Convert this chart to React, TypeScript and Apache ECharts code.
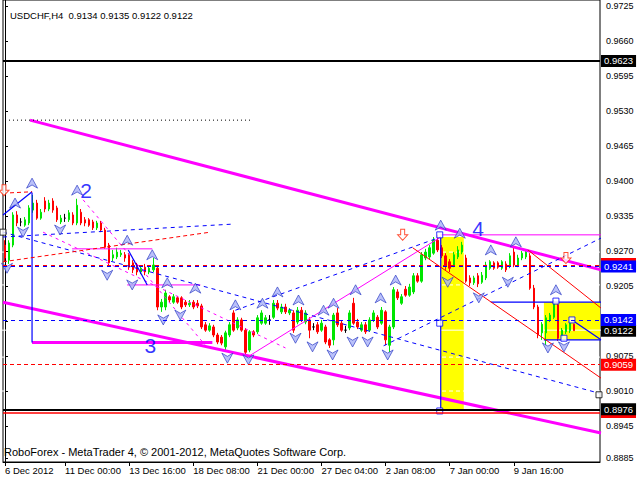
import React, { useEffect, useRef } from "react";
import * as echarts from "echarts";

const FONT = '"Liberation Sans", Arial, sans-serif';

// ---------- axes ----------
const timeTickIndex = [0, 15, 31, 47, 63, 79, 95, 111, 127];
const timeTickLabels = ["6 Dec 2012", "11 Dec 00:00", "13 Dec 16:00", "18 Dec 08:00", "21 Dec 00:00", "27 Dec 04:00", "2 Jan 08:00", "7 Jan 00:00", "9 Jan 16:00"];
const priceTicks = [0.9725, 0.966, 0.9595, 0.953, 0.9465, 0.94, 0.9335, 0.927, 0.9205, 0.914, 0.9075, 0.901, 0.8945, 0.8885];
const priceTickLabels = [0.9725, 0.966, 0.9595, 0.953, 0.9465, 0.94, 0.9335, 0.927, 0.9205, 0.9075, 0.901, 0.8945, 0.8885];
const priceMin = 0.88782;
const priceMax = 0.97361;
const slotCount = 149;

// ---------- candles: [open, close, low, high] ----------
const candles: number[][] = [
  [0.9281, 0.9257, 0.925, 0.929], [0.9253, 0.9285, 0.9246, 0.929], [0.9281, 0.9337, 0.9277, 0.9342], [0.9337, 0.9322, 0.9316, 0.9344],
  [0.9324, 0.9324, 0.9316, 0.9331], [0.9318, 0.9328, 0.9315, 0.9333], [0.9322, 0.935, 0.9318, 0.9355], [0.9346, 0.9359, 0.9341, 0.9374],
  [0.9359, 0.9331, 0.9328, 0.9365], [0.9331, 0.9342, 0.9328, 0.9348], [0.9363, 0.9348, 0.9342, 0.937], [0.9348, 0.9359, 0.9344, 0.9365],
  [0.9363, 0.9346, 0.9341, 0.9368], [0.935, 0.9328, 0.9324, 0.9354], [0.9324, 0.9331, 0.932, 0.9337], [0.9331, 0.9331, 0.9324, 0.9339],
  [0.9328, 0.9341, 0.9324, 0.9346], [0.9337, 0.9322, 0.9318, 0.9342], [0.9322, 0.9355, 0.9318, 0.9367], [0.9342, 0.9322, 0.9318, 0.9348],
  [0.9328, 0.9322, 0.9316, 0.9333], [0.9328, 0.9318, 0.9315, 0.9331], [0.9324, 0.9313, 0.9309, 0.9328], [0.9313, 0.9322, 0.9309, 0.9326],
  [0.9322, 0.9309, 0.9305, 0.9326], [0.9309, 0.9277, 0.9274, 0.9313], [0.9281, 0.9248, 0.9244, 0.9285], [0.9257, 0.9263, 0.9251, 0.9272],
  [0.9259, 0.9268, 0.9255, 0.9276], [0.9263, 0.9266, 0.9259, 0.9272], [0.9263, 0.9257, 0.925, 0.9268], [0.9263, 0.924, 0.9235, 0.9266],
  [0.9248, 0.9235, 0.9229, 0.9253], [0.9244, 0.9231, 0.9225, 0.9248], [0.9231, 0.9238, 0.9227, 0.9244], [0.924, 0.9231, 0.9225, 0.9246],
  [0.9231, 0.9238, 0.9227, 0.9244], [0.9235, 0.9244, 0.9231, 0.9257], [0.9238, 0.9166, 0.916, 0.9244], [0.9166, 0.9175, 0.9157, 0.9181],
  [0.9166, 0.9192, 0.916, 0.9198], [0.9185, 0.9179, 0.9175, 0.9188], [0.9175, 0.9185, 0.9172, 0.919], [0.9183, 0.9175, 0.9172, 0.9186],
  [0.9183, 0.9166, 0.9162, 0.9186], [0.9175, 0.917, 0.9166, 0.9179], [0.917, 0.9173, 0.9166, 0.9179], [0.9175, 0.9166, 0.9162, 0.9179],
  [0.9173, 0.9168, 0.9164, 0.9179], [0.9168, 0.9129, 0.9125, 0.9172], [0.9133, 0.9123, 0.912, 0.9138], [0.9123, 0.9131, 0.912, 0.9136],
  [0.9129, 0.9114, 0.911, 0.9133], [0.9114, 0.9101, 0.9097, 0.9118], [0.911, 0.9099, 0.9095, 0.9114], [0.9092, 0.9118, 0.9086, 0.9122],
  [0.9114, 0.9133, 0.911, 0.9138], [0.9155, 0.9123, 0.912, 0.916], [0.9127, 0.9142, 0.9123, 0.9147], [0.9142, 0.9123, 0.912, 0.9146],
  [0.9123, 0.9082, 0.9077, 0.9127], [0.9086, 0.912, 0.9082, 0.9123], [0.912, 0.9114, 0.911, 0.9123], [0.912, 0.9146, 0.9116, 0.9151],
  [0.9136, 0.9155, 0.9133, 0.916], [0.9136, 0.9146, 0.9133, 0.9151], [0.9142, 0.9142, 0.9133, 0.9151], [0.9147, 0.9173, 0.9144, 0.9179],
  [0.9173, 0.9164, 0.916, 0.9179], [0.9157, 0.9166, 0.9153, 0.9172], [0.9166, 0.9157, 0.9153, 0.9172], [0.9155, 0.916, 0.9151, 0.9164],
  [0.9155, 0.9123, 0.9118, 0.916], [0.9138, 0.916, 0.9134, 0.9166], [0.916, 0.9142, 0.9138, 0.9166], [0.9138, 0.9155, 0.9134, 0.916],
  [0.9142, 0.9123, 0.9108, 0.9147], [0.9129, 0.9129, 0.9123, 0.9136], [0.9133, 0.912, 0.9116, 0.9138], [0.9123, 0.9136, 0.912, 0.9142],
  [0.9129, 0.9101, 0.9097, 0.9133], [0.9105, 0.9095, 0.909, 0.9108], [0.9105, 0.9151, 0.9095, 0.9155], [0.9155, 0.9133, 0.9129, 0.9164],
  [0.9136, 0.9123, 0.912, 0.914], [0.9123, 0.9123, 0.9118, 0.9131], [0.9127, 0.9155, 0.9123, 0.916], [0.9173, 0.9136, 0.9133, 0.9183],
  [0.9138, 0.9129, 0.9125, 0.9144], [0.9123, 0.9133, 0.912, 0.9138], [0.9133, 0.912, 0.9116, 0.9138], [0.9123, 0.9142, 0.912, 0.9147],
  [0.9142, 0.9155, 0.9138, 0.916], [0.9147, 0.9129, 0.9125, 0.9151], [0.9136, 0.916, 0.9133, 0.9166], [0.9157, 0.9105, 0.9095, 0.916],
  [0.9095, 0.9129, 0.9082, 0.9133], [0.9129, 0.9198, 0.9125, 0.9203], [0.9194, 0.9183, 0.9179, 0.9199], [0.9173, 0.9185, 0.917, 0.919],
  [0.9199, 0.9188, 0.9185, 0.9205], [0.9188, 0.9203, 0.9185, 0.9209], [0.9194, 0.9224, 0.919, 0.9229], [0.9224, 0.9214, 0.9211, 0.9229],
  [0.9214, 0.9263, 0.9211, 0.9268], [0.9257, 0.9268, 0.9253, 0.9274], [0.9259, 0.9276, 0.9255, 0.9281], [0.9266, 0.929, 0.9263, 0.9296],
  [0.929, 0.9272, 0.9268, 0.93], [0.9276, 0.9261, 0.9257, 0.9281], [0.9261, 0.9244, 0.9235, 0.9266], [0.925, 0.9238, 0.9231, 0.9255],
  [0.9244, 0.9263, 0.924, 0.9268], [0.9259, 0.9272, 0.9255, 0.9279], [0.9268, 0.9281, 0.9264, 0.9287], [0.9257, 0.9214, 0.9211, 0.9263],
  [0.922, 0.9211, 0.9205, 0.9225], [0.9211, 0.922, 0.9207, 0.9224], [0.9224, 0.9209, 0.9203, 0.9229], [0.9212, 0.9225, 0.9209, 0.9231],
  [0.922, 0.9244, 0.9216, 0.925], [0.9238, 0.925, 0.9235, 0.9253], [0.9248, 0.9238, 0.9235, 0.9251], [0.9248, 0.924, 0.9237, 0.9251],
  [0.9238, 0.925, 0.9235, 0.9253], [0.9246, 0.9235, 0.9231, 0.9251], [0.9242, 0.9261, 0.9238, 0.9266], [0.9268, 0.9244, 0.924, 0.9276],
  [0.9244, 0.9257, 0.924, 0.9263], [0.9257, 0.9266, 0.9253, 0.927], [0.9259, 0.9268, 0.9255, 0.9272], [0.9261, 0.9201, 0.9198, 0.9266],
  [0.9201, 0.9166, 0.9162, 0.9207], [0.9166, 0.9114, 0.9108, 0.917], [0.9118, 0.9134, 0.9105, 0.9138], [0.9118, 0.9146, 0.9095, 0.9151],
  [0.9142, 0.9151, 0.9138, 0.9155], [0.9147, 0.9173, 0.9144, 0.9179], [0.917, 0.9108, 0.9103, 0.9175], [0.911, 0.9123, 0.9105, 0.9127],
  [0.912, 0.9133, 0.9116, 0.9136], [0.9122, 0.9136, 0.9118, 0.914], [0.9134, 0.9122, 0.9122, 0.9135],
];

// ---------- horizontal levels ----------
const levelsBlackSolid = [0.9623, 0.8976];
const levelsRedSolid = [0.897];
const levelsRedDashedThick = [0.9243];
const levelsBlueDashed = [0.9241, 0.9142];
const levelsRedDashed = [0.9059];
const levelsWhite = [0.9268, 0.9207, 0.9123, 0.9073, 0.901];
const hiddenRedTags = [0.9246, 0.8971];
const tagsBlack = [0.9623, 0.9122, 0.8976];
const tagsBlue = [0.9241, 0.9142];
const tagsRed = [0.9059];

// ---------- trend lines: [[x0, p0], [x1, p1]] in bar-index units ----------
const magentaThick = [
  [[6.25, 0.9513], [148.75, 0.9235]],
  [[-0.5, 0.9175], [148.75, 0.8932]],
  [[6.75, 0.91], [51.75, 0.91]],
];
const magentaThin = [
  [[60.5, 0.9073], [108.75, 0.9296]],
  [[16.75, 0.9274], [36.75, 0.9274]],
  [[30.5, 0.9207], [48.75, 0.9207]],
  [[108.75, 0.93], [148.75, 0.93]],
];
const magentaDashed = [
  [[19.5, 0.9365], [50, 0.9095]],
  [[9.5, 0.9305], [70, 0.909]],
];
const blueSolid = [
  [[6.75, 0.9378], [6.75, 0.91]],
  [[-0.5, 0.9337], [6.75, 0.938]],
  [[30.75, 0.9272], [35.5, 0.9207]],
  [[108.75, 0.9296], [108.75, 0.8975]],
  [[121.25, 0.9175], [148.75, 0.9175]],
  [[134.5, 0.9105], [148.75, 0.9105]],
  [[141.5, 0.9142], [148.75, 0.9105]],
];
const blueDashed = [
  [[-0.5, 0.9296], [57, 0.932]],
  [[-0.5, 0.9305], [148.25, 0.9006]],
  [[94.5, 0.9094], [148.75, 0.9294]],
  [[57.5, 0.916], [108.75, 0.9296]],
];
const redThin = [
  [[101.75, 0.9276], [148.75, 0.9034]],
  [[130.5, 0.9272], [148.75, 0.9164]],
];
const redDashedShort = [
  [[-0.5, 0.925], [51.25, 0.9305]],
  [[1.25, 0.9378], [6.75, 0.938]],
];
const blackDotted = [[[0, 0.9513], [61.75, 0.9513]]];

// ---------- zones [x0, pTop, x1, pBottom] ----------
const yellowZones = [
  [108.75, 0.9296, 114.5, 0.8975],
  [134.5, 0.9175, 148.5, 0.9105],
];

// ---------- markers ----------
const upArrows = [[6.75, 0.9396], [2.5, 0.9359], [18, 0.9383], [30.5, 0.929], [36.75, 0.9263], [40.5, 0.9211], [47.5, 0.9201], [57.5, 0.917], [64.25, 0.9173], [68, 0.9194], [73.25, 0.9179], [79.5, 0.916], [82, 0.9173], [87.5, 0.9198], [93.75, 0.9183], [97.5, 0.9216], [108.75, 0.9318], [113.5, 0.9303], [121.25, 0.9272], [127.5, 0.9287], [137.5, 0.9198]];
const downArrows = [[0.5, 0.9238], [4.5, 0.9305], [13.75, 0.9309], [25.5, 0.9225], [31.75, 0.9207], [39.5, 0.9142], [43.75, 0.9151], [55.5, 0.9071], [60.75, 0.9068], [72.5, 0.9108], [76.75, 0.9092], [81.75, 0.9077], [86.75, 0.9101], [90.5, 0.9101], [95.5, 0.9077], [110.5, 0.9212], [118.25, 0.9183], [125.5, 0.9212], [135.5, 0.909], [139.5, 0.9092]];
const redArrows = [[99.25, 0.93], [-0.25, 0.9383], [140, 0.9257]];
const anchorSquares = [[108.5, 0.93], [108.5, 0.9136], [108.5, 0.8973], [137.5, 0.9177], [141.5, 0.9142], [139.5, 0.9108]];
const blackSquares = [[148.25, 0.9003], [-0.5, 0.9305]];
const waveLabels = [
  { name: "2", x: 20.25, p: 0.9382 },
  { name: "3", x: 36.25, p: 0.9095 },
  { name: "4", x: 118.1, p: 0.9312 },
];

const titleText = "USDCHF,H4  0.9134 0.9135 0.9122 0.9122";
const footerText = "RoboForex - MetaTrader 4, \u00A9 2001-2012, MetaQuotes Software Corp.";

const UP_PATH = "path://M6,0 L12,11 L6,7.5 L0,11 Z";
const DOWN_PATH = "path://M0,0 L6,3.5 L12,0 L6,11 Z";
const RED_ARROW_PATH = "path://M3,0 L7,0 L7,5 L10,5 L5,10 L0,5 L3,5 Z";

function segSeries(segs: number[][][], style: any, z: number) {
  return segs.map((pts) => ({
    type: "line",
    xAxisIndex: 1,
    yAxisIndex: 0,
    data: pts,
    symbol: "none",
    silent: true,
    animation: false,
    z,
    lineStyle: style,
  }));
}

export default function App() {
  const ref = useRef<HTMLDivElement>(null);
  useEffect(() => {
    if (!ref.current) return;
    const chart = echarts.init(ref.current, null, { renderer: "svg" });
    const categories = candles.concat(new Array(slotCount - candles.length).fill(null)).map((_, i) => String(i));
    const tickLabelOf: Record<number, string> = {};
    timeTickIndex.forEach((idx, k) => (tickLabelOf[idx] = timeTickLabels[k]));
    const isTick = (idx: number) => tickLabelOf[idx] !== undefined;
    const rightEdge = slotCount - 0.5;

    const lineLevel = (v: number, style: any) => ({ yAxis: v, lineStyle: style, label: { show: false } });
    const tag = (v: number, bg: string) => ({
      yAxis: v,
      lineStyle: { color: "rgba(255,255,255,0)", width: 0 },
      label: {
        show: true,
        position: "end",
        distance: 1,
        formatter: () => v.toFixed(4),
        backgroundColor: bg,
        color: "#fff",
        opacity: 1,
        padding: [1, 3, 0, 3],
        lineHeight: 11,
        fontSize: 9.5,
        fontFamily: FONT,
      },
    });

    const option: any = {
      animation: false,
      backgroundColor: "#fff",
      title: {
        text: titleText,
        left: 5,
        top: 5,
        textStyle: { fontSize: 9.5, fontWeight: "normal", color: "#000", fontFamily: FONT },
      },
      graphic: [
        { type: "text", left: 4, top: 446, style: { text: footerText, font: `11px ${FONT}`, fill: "#000" } },
      ],
      grid: { left: 3, right: 40, top: 0, bottom: 18, show: true, borderColor: "#000", borderWidth: 1, backgroundColor: "transparent" },
      xAxis: [
        {
          type: "category",
          data: categories,
          boundaryGap: true,
          axisLine: { lineStyle: { color: "#000" } },
          axisTick: { show: true, interval: (idx: number) => isTick(idx), alignWithLabel: true, length: 4, lineStyle: { color: "#000" } },
          axisLabel: {
            interval: (idx: number) => isTick(idx),
            formatter: (_v: string, idx: number) => tickLabelOf[idx] || "",
            align: "left",
            margin: 3,
            fontSize: 9.5,
            color: "#000",
            fontFamily: FONT,
          },
          splitLine: { show: false },
        },
        { type: "value", min: -0.5, max: rightEdge, show: false },
      ],
      yAxis: {
        type: "value",
        position: "right",
        min: priceMin,
        max: priceMax,
        scale: true,
        axisLine: { show: true, lineStyle: { color: "#000" } },
        axisTick: { show: true, length: 3, customValues: priceTicks, lineStyle: { color: "#000" } },
        axisLabel: { customValues: priceTickLabels, formatter: (v: number) => v.toFixed(4), margin: 6, fontSize: 9, lineHeight: 8, color: "#000", fontFamily: FONT },
        splitLine: { show: false },
      },
      series: [
        {
          type: "custom",
          xAxisIndex: 1,
          yAxisIndex: 0,
          z: 0,
          silent: true,
          encode: { x: [0, 2], y: [1, 3] },
          data: yellowZones,
          renderItem: (_p: any, api: any) => {
            const a = api.coord([api.value(0), api.value(1)]);
            const b = api.coord([api.value(2), api.value(3)]);
            return { type: "rect", shape: { x: a[0], y: a[1], width: b[0] - a[0], height: b[1] - a[1] }, style: { fill: "#ffff00" } };
          },
        },
        {
          type: "custom",
          xAxisIndex: 1,
          yAxisIndex: 0,
          z: 6,
          silent: true,
          clip: false,
          encode: { x: 0, y: 1 },
          data: hiddenRedTags.map((v) => [rightEdge, v]),
          renderItem: (_p: any, api: any) => {
            const a = api.coord([api.value(0), api.value(1)]);
            return { type: "rect", shape: { x: a[0] + 1, y: a[1] - 6, width: 35, height: 12 }, style: { fill: "#ff0000" } };
          },
        },
        ...levelsWhite.map((v) => ({
          type: "line",
          xAxisIndex: 1,
          data: [[-1, v], [150, v]],
          symbol: "none",
          silent: true,
          z: 1,
          lineStyle: { color: "#fff", width: 1, type: v === 0.9123 ? "solid" : [4, 3] },
        })),
        {
          type: "candlestick",
          xAxisIndex: 0,
          yAxisIndex: 0,
          data: candles,
          barWidth: 2,
          z: 2,
          silent: true,
          itemStyle: {
            color: "#00e600",
            color0: "#ff0000",
            borderColor: "#00e600",
            borderColor0: "#ff0000",
            borderColorDoji: "#000",
            borderWidth: 1,
          },
        },
        ...segSeries(magentaThick, { color: "#ff00ff", width: 3 }, 3),
        ...segSeries(magentaThin, { color: "#ff00ff", width: 1 }, 3),
        ...segSeries(magentaDashed, { color: "#ff00ff", width: 1, type: [3, 4] }, 3),
        ...segSeries(blueSolid, { color: "#0000ff", width: 1.2 }, 3),
        ...segSeries(blueDashed, { color: "#0000ff", width: 1, type: [4, 4] }, 3),
        ...segSeries(redThin, { color: "#ff0000", width: 1 }, 3),
        ...segSeries(redDashedShort, { color: "#ff0000", width: 1, type: [4, 3] }, 3),
        ...segSeries(blackDotted, { color: "#000", width: 1, type: [1, 3] }, 3),
        {
          type: "line",
          xAxisIndex: 1,
          data: [[0, 0.95]],
          symbol: "none",
          silent: true,
          z: 3,
          lineStyle: { opacity: 0 },
          markLine: {
            symbol: "none",
            silent: true,
            animation: false,
            precision: 4,
            data: [
              ...levelsBlackSolid.map((v) => lineLevel(v, { color: "#000", width: 2, type: "solid" })),
              ...levelsRedSolid.map((v) => lineLevel(v, { color: "#ff0000", width: 1.5, type: "solid" })),
              ...levelsRedDashedThick.map((v) => lineLevel(v, { color: "#ff0000", width: 2, type: [4, 4] })),
              ...levelsBlueDashed.map((v) => lineLevel(v, { color: "#0000ff", width: 1, type: [4, 4] })),
              ...levelsRedDashed.map((v) => lineLevel(v, { color: "#ff0000", width: 1, type: [4, 3] })),
            ],
          },
        },
        {
          type: "line",
          xAxisIndex: 1,
          data: [[0, 0.95]],
          symbol: "none",
          silent: true,
          z: 7,
          lineStyle: { opacity: 0 },
          markLine: {
            symbol: "none",
            silent: true,
            animation: false,
            precision: 4,
            z: 7,
            data: [
              ...tagsBlack.map((v) => tag(v, "#000")),
              ...tagsBlue.map((v) => tag(v, "#0000ff")),
              ...tagsRed.map((v) => tag(v, "#ff0000")),
            ],
          },
        },
        {
          type: "scatter",
          xAxisIndex: 1,
          data: upArrows,
          symbol: UP_PATH,
          symbolSize: [11, 10],
          silent: true,
          z: 4,
          itemStyle: { color: "#a9b1f7", borderColor: "#1f2fc0", borderWidth: 0.8 },
        },
        {
          type: "scatter",
          xAxisIndex: 1,
          data: downArrows,
          symbol: DOWN_PATH,
          symbolSize: [11, 10],
          silent: true,
          z: 4,
          itemStyle: { color: "#a9b1f7", borderColor: "#1f2fc0", borderWidth: 0.8 },
        },
        {
          type: "scatter",
          xAxisIndex: 1,
          data: redArrows,
          symbol: RED_ARROW_PATH,
          symbolSize: [10, 11],
          silent: true,
          z: 4,
          itemStyle: { color: "#fff", borderColor: "#ff2200", borderWidth: 1 },
        },
        {
          type: "scatter",
          xAxisIndex: 1,
          data: anchorSquares,
          symbol: "rect",
          symbolSize: 6,
          silent: true,
          z: 4,
          itemStyle: { color: "#fff", borderColor: "#0000ff", borderWidth: 1 },
        },
        {
          type: "scatter",
          xAxisIndex: 1,
          data: blackSquares,
          symbol: "rect",
          symbolSize: 6,
          silent: true,
          z: 4,
          itemStyle: { color: "#fff", borderColor: "#000", borderWidth: 1 },
        },
        {
          type: "scatter",
          xAxisIndex: 1,
          data: waveLabels.map((w) => ({ name: w.name, value: [w.x, w.p] })),
          symbolSize: 0,
          silent: true,
          z: 5,
          label: {
            show: true,
            position: "inside",
            formatter: (p: any) => p.name,
            fontSize: 21,
            color: "#0000ff",
            fontFamily: FONT,
          },
        },
      ],
    };
    chart.setOption(option);
    return () => chart.dispose();
  }, []);
  return <div ref={ref} style={{ position: "fixed", left: 0, top: 0, width: 640, height: 480, background: "#fff" }} />;
}
